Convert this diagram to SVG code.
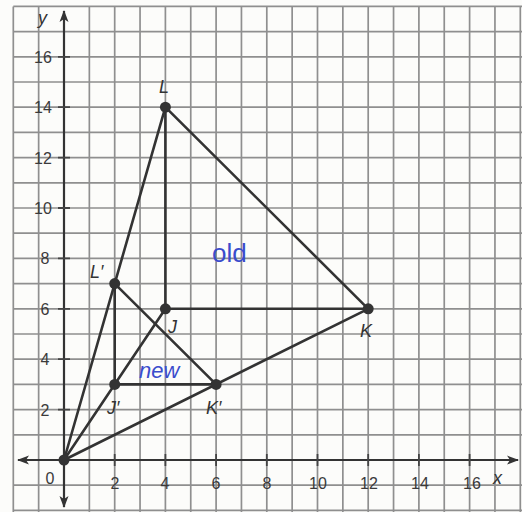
<svg xmlns="http://www.w3.org/2000/svg" width="522" height="512" viewBox="0 0 522 512">
<defs>
<style>
.grid{stroke:#8f8f8f;stroke-width:1.7;fill:none}
.axis{stroke:#333;stroke-width:2.2;fill:none}
.tick{stroke:#444;stroke-width:1.8}
.seg{stroke:#333;stroke-width:2.6;fill:none;stroke-linecap:round}
.pt{fill:#333}
.num{font-family:"Liberation Sans",Arial,sans-serif;font-size:16px;fill:#3a3a3a;text-anchor:middle}
.lab{font-family:"Liberation Sans",Arial,sans-serif;font-size:18px;font-style:italic;fill:#333}
.hand{font-family:"Liberation Sans",Arial,sans-serif;fill:#3a4ccc}
</style>
<marker id="arr" viewBox="0 0 12 10" refX="11" refY="5" markerWidth="12" markerHeight="10" orient="auto-start-reverse" markerUnits="userSpaceOnUse">
<path d="M0,0.5 L12,5 L0,9.5 L3,5 Z" fill="#333"/>
</marker>
</defs>
<rect width="522" height="512" fill="#fcfcfa"/>
<g id="grid">
<path class="grid" d="M13.3,6.4V512M38.65,6.4V512M89.35,6.4V512M114.7,6.4V512M140.05,6.4V512M165.4,6.4V512M190.75,6.4V512M216.1,6.4V512M241.45,6.4V512M266.8,6.4V512M292.15,6.4V512M317.5,6.4V512M342.85,6.4V512M368.2,6.4V512M393.55,6.4V512M418.9,6.4V512M444.25,6.4V512M469.6,6.4V512M494.95,6.4V512M520.3,6.4V512"/>
<path class="grid" d="M13.3,6.4H522M13.3,31.6H522M13.3,56.8H522M13.3,82H522M13.3,107.2H522M13.3,132.4H522M13.3,157.6H522M13.3,182.8H522M13.3,208H522M13.3,233.2H522M13.3,258.4H522M13.3,283.6H522M13.3,308.8H522M13.3,334H522M13.3,359.2H522M13.3,384.4H522M13.3,409.6H522M13.3,434.8H522M13.3,485.2H522M13.3,510.4H522"/>
</g>
<g id="axes">
<line class="axis" x1="18" y1="460" x2="518" y2="460" marker-start="url(#arr)" marker-end="url(#arr)"/>
<line class="axis" x1="64" y1="11" x2="64" y2="507" marker-start="url(#arr)" marker-end="url(#arr)"/>
<path class="tick" d="M58,56.8H70M58,107.2H70M58,157.6H70M58,208H70M58,258.4H70M58,308.8H70M58,359.2H70M58,409.6H70"/>
<path class="tick" d="M114.7,454V466M165.4,454V466M216.1,454V466M266.8,454V466M317.5,454V466M368.2,454V466M418.9,454V466M469.6,454V466"/>
<text class="num" x="43" y="63">16</text>
<text class="num" x="43" y="113">14</text>
<text class="num" x="43" y="164">12</text>
<text class="num" x="43" y="214">10</text>
<text class="num" x="45" y="264">8</text>
<text class="num" x="45" y="315">6</text>
<text class="num" x="45" y="365">4</text>
<text class="num" x="45" y="416">2</text>
<text class="num" x="50" y="484">0</text>
<text class="num" x="115" y="489">2</text>
<text class="num" x="165" y="489">4</text>
<text class="num" x="216" y="489">6</text>
<text class="num" x="267" y="489">8</text>
<text class="num" x="318" y="489">10</text>
<text class="num" x="369" y="489">12</text>
<text class="num" x="420" y="489">14</text>
<text class="num" x="472" y="489">16</text>
<text class="lab" x="38" y="24" font-size="17">y</text>
<text class="lab" x="493" y="484" font-size="17">x</text>
</g>
<g id="connectors">
<line class="seg" x1="64" y1="460" x2="165.4" y2="107.2"/>
<line class="seg" x1="64" y1="460" x2="165.4" y2="308.8"/>
<line class="seg" x1="64" y1="460" x2="368.2" y2="308.8"/>
<line class="seg" x1="165.4" y1="107.2" x2="165.4" y2="308.8"/>
<line class="seg" x1="165.4" y1="308.8" x2="368.2" y2="308.8"/>
<line class="seg" x1="165.4" y1="107.2" x2="368.2" y2="308.8"/>
<line class="seg" x1="114.7" y1="283.6" x2="114.7" y2="384.4"/>
<line class="seg" x1="114.7" y1="384.4" x2="216.1" y2="384.4"/>
<line class="seg" x1="114.7" y1="283.6" x2="216.1" y2="384.4"/>
</g>
<g id="O"><circle class="pt" cx="64" cy="460" r="5.5"/></g>
<g id="L"><circle class="pt" cx="165.4" cy="107.2" r="5.5"/><text class="lab" x="159" y="93">L</text></g>
<g id="J"><circle class="pt" cx="165.4" cy="308.8" r="5.5"/><text class="lab" x="168" y="333">J</text></g>
<g id="K"><circle class="pt" cx="368.2" cy="308.8" r="5.5"/><text class="lab" x="360" y="337">K</text></g>
<g id="Lp"><circle class="pt" cx="114.7" cy="283.6" r="5.5"/><text class="lab" x="90" y="278">L′</text></g>
<g id="Jp"><circle class="pt" cx="114.7" cy="384.4" r="5.5"/><text class="lab" x="107" y="414">J′</text></g>
<g id="Kp"><circle class="pt" cx="216.1" cy="384.4" r="5.5"/><text class="lab" x="206" y="414">K′</text></g>
<g id="old"><text class="hand" x="212" y="262" font-size="26">old</text></g>
<g id="new"><text class="hand" x="139" y="378" font-size="22" font-style="italic">new</text></g>
</svg>
